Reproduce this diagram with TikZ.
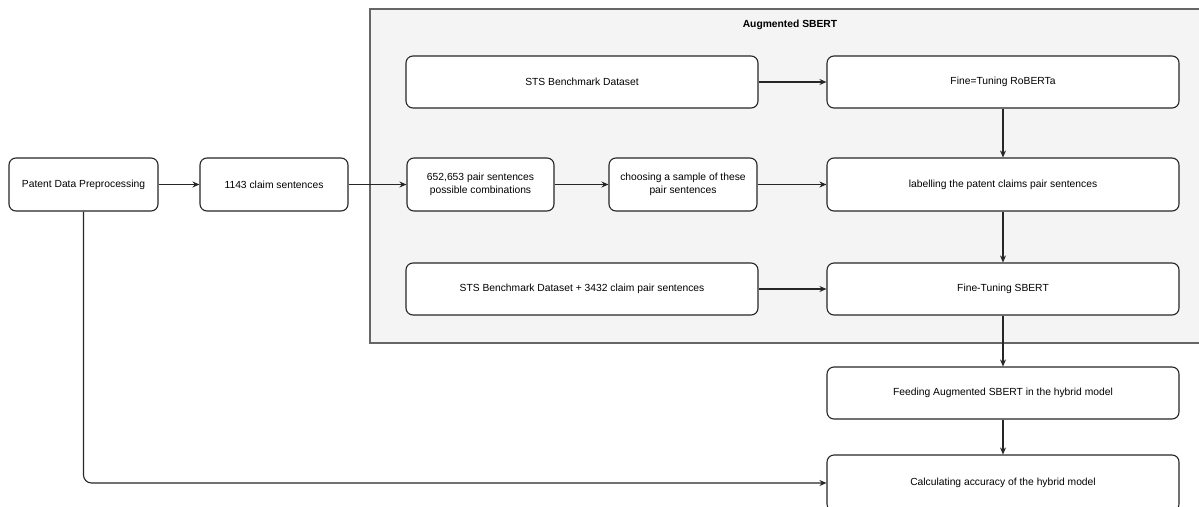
\documentclass[tikz,border=0pt]{standalone}
\usepackage{fontspec}
\setmainfont{Liberation Sans}
\usetikzlibrary{arrows.meta,positioning}
\definecolor{cfill}{HTML}{F4F4F4}
\definecolor{cline}{HTML}{666666}
\begin{document}
\begin{tikzpicture}[x=1pt,y=-1pt,
  box/.style={draw=black!85,line width=1.1pt,rounded corners=7pt,fill=white,inner sep=0pt,
    align=center,font=\fontsize{10.3}{12.5}\selectfont},
  conn/.style={draw=black!85,line width=1.1pt,-{Stealth[length=7pt,width=6pt]}}]
\useasboundingbox (0,0) rectangle (1199,506);
\fill[white] (0,0) rectangle (1199,506);
% container
\draw[cline,fill=cfill,line width=1.1pt] (370,9) rectangle (1202,343);
\node[font=\fontsize{10.3}{12.5}\selectfont\bfseries] (title) at (790,25) {Augmented SBERT};
% boxes
\node[box,minimum width=149pt,minimum height=53pt] (pre) at (83.5,184.5) {Patent Data Preprocessing};
\node[box,minimum width=148pt,minimum height=53pt] (claim) at (274,184.5) {1143 claim sentences};
\node[box,minimum width=352pt,minimum height=52pt] (sts) at (582,82) {STS Benchmark Dataset};
\node[box,minimum width=352pt,minimum height=52pt] (rob) at (1003,82) {Fine=Tuning RoBERTa};
\node[box,minimum width=147pt,minimum height=53pt] (comb) at (480.5,184.5) {652,653 pair sentences\\possible combinations};
\node[box,minimum width=148pt,minimum height=53pt] (samp) at (683,184.5) {choosing a sample of these\\pair sentences};
\node[box,minimum width=352pt,minimum height=53pt] (lab) at (1003,184.5) {labelling the patent claims pair sentences};
\node[box,minimum width=352pt,minimum height=52pt] (sts2) at (582,289) {STS Benchmark Dataset + 3432 claim pair sentences};
\node[box,minimum width=352pt,minimum height=52pt] (ft) at (1003,289) {Fine-Tuning SBERT};
\node[box,minimum width=352pt,minimum height=52pt] (feed) at (1003,393) {Feeding Augmented SBERT in the hybrid model};
\node[box,minimum width=352pt,minimum height=56pt] (calc) at (1003,483) {Calculating accuracy of the hybrid model};
% connectors
\draw[conn] (pre) -- (claim);
\draw[conn] (claim) -- (comb);
\draw[conn] (comb) -- (samp);
\draw[conn] (samp) -- (lab);
\draw[conn] (sts) -- (rob);
\draw[conn] (rob) -- (lab);
\draw[conn] (lab) -- (ft);
\draw[conn] (sts2) -- (ft);
\draw[conn] (ft) -- (feed);
\draw[conn] (feed) -- (calc);
\draw[conn,rounded corners=8pt] (pre.south) |- (calc.west);
\end{tikzpicture}
\end{document}
